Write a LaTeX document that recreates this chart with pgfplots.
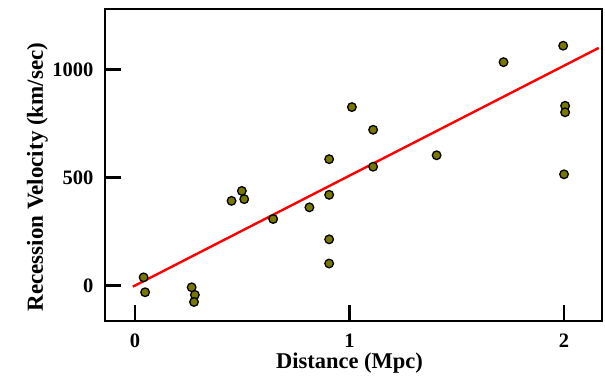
\documentclass[border=0pt]{standalone}
\usepackage{fontspec}
\setmainfont{Liberation Serif}
\usepackage{pgfplots}
\pgfplotsset{compat=1.18}
\begin{document}
\begin{tikzpicture}
\begin{axis}[
  scale only axis,
  width=497bp, height=312bp,
  xmin=-0.14, xmax=2.177,
  ymin=-164, ymax=1280,
  axis line style={line width=2.2bp},
  xtick={0,1,2}, ytick={0,500,1000},
  tick style={line width=2.4bp, black},
  major tick length=16bp,
  tick align=inside,
  xtick pos=bottom, ytick pos=left,
  /pgf/number format/assume math mode=true,
  /pgf/number format/1000 sep={},
  tick label style={font=\fontsize{20.5bp}{24bp}\selectfont\bfseries},
  xticklabel style={yshift=-9bp},
  yticklabel style={xshift=-8bp},
  xlabel={Distance (Mpc)},
  ylabel={Recession Velocity (km/sec)},
  every axis x label/.style={at={(axis cs:1,-359)}, anchor=center, font=\fontsize{22.5bp}{26bp}\selectfont\bfseries},
  every axis y label/.style={at={(axis cs:-0.455,502)}, rotate=90, anchor=center, font=\fontsize{23bp}{26bp}\selectfont\bfseries},
  clip=false,
]
\addplot[red, line width=2.4bp] coordinates {(-0.01,-5) (2.162,1100)};
\addplot[only marks, mark=*, mark size=4.3bp,
  mark options={fill={rgb,255:red,120;green,120;blue,0}, draw=black, line width=1.3bp}]
coordinates {
(0.040,38) (0.047,-31) (0.264,-8) (0.279,-43) (0.275,-76)
(0.45,392) (0.498,438) (0.509,400) (0.644,308) (0.813,362)
(0.905,585) (0.905,420) (0.905,214) (0.905,102)
(1.011,826) (1.11,721) (1.11,550) (1.406,603) (1.718,1034)
(1.996,1110) (2.005,832) (2.005,802) (2.00,515)
};
\end{axis}
\pgfresetboundingbox
\path[use as bounding box] (current axis.south west) ++(-105bp,-62bp) rectangle ++(605bp,383bp);
\end{tikzpicture}
\end{document}
